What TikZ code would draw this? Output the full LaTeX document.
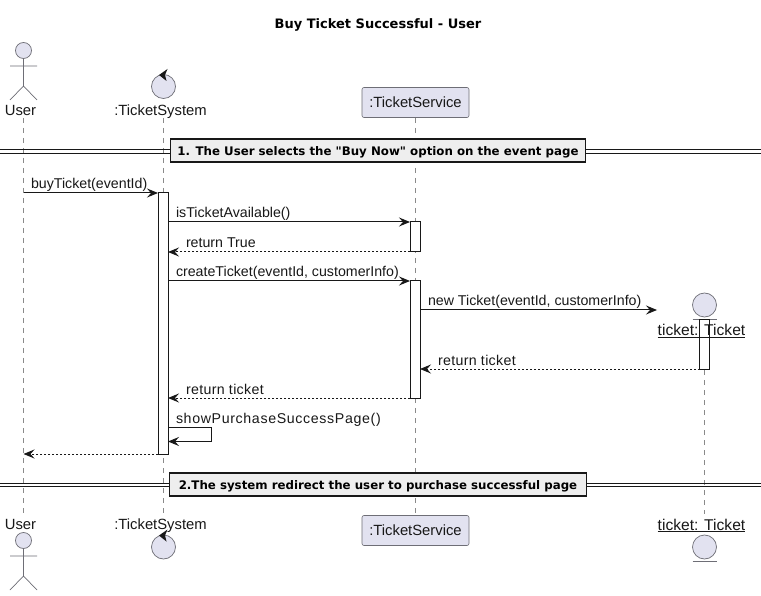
\documentclass[tikz,border=0pt]{standalone}
\usepackage{fontspec}
\setmainfont{Liberation Sans}
\newfontfamily\boldfam{DejaVu Sans}[BoldFont={DejaVu Sans Bold}]
\newfontfamily\widefam[LetterSpace=4.5]{Liberation Sans}
\newfontfamily\retfam[LetterSpace=2.3]{Liberation Sans}
\usetikzlibrary{arrows.meta,calc}
\definecolor{partfill}{HTML}{E2E2F0}
\definecolor{ink}{HTML}{181818}
\definecolor{partline}{HTML}{6E6E76}
\definecolor{lifecol}{HTML}{8A8A8A}
\definecolor{divfill}{HTML}{EEEEEE}
\tikzset{
  lbl/.style={inner sep=0pt,outer sep=0pt,anchor=base west,text=ink,font=\fontsize{14.2}{16}\selectfont},
  widelbl/.style={lbl,font=\widefam\fontsize{14.2}{16}\selectfont},
  retlbl/.style={lbl,font=\retfam\fontsize{14.2}{16}\selectfont},
  part/.style={inner sep=0pt,outer sep=0pt,anchor=base,text=ink,font=\fontsize{14.8}{17}\selectfont},
  entlbl/.style={part,font=\fontsize{15.6}{17}\selectfont},
  ttl/.style={inner sep=0pt,outer sep=0pt,anchor=base,text=black,font=\boldfam\bfseries\fontsize{13}{15}\selectfont},
  msg/.style={draw=ink,line width=1pt,-{Stealth[length=11pt,width=9pt,inset=4pt,fill=ink]}},
  ret/.style={msg,dash pattern=on 2pt off 2pt},
  lifeline/.style={draw=lifecol,line width=.8pt,dash pattern=on 5pt off 5pt},
  bar/.style={draw=ink,fill=white,line width=1pt,minimum width=10pt,inner sep=0pt,outer sep=0pt},
  svcbox/.style={draw=partline,fill=partfill,line width=.6pt,rounded corners=2pt,minimum width=107pt,minimum height=30pt,inner sep=0pt,text=ink,font=\fontsize{14.8}{17}\selectfont},
  shp/.style={draw=partline,line width=.7pt},
  shpfill/.style={shp,fill=partfill},
  divbox/.style={draw=ink,fill=divfill,line width=1.8pt,inner sep=0pt,minimum height=23pt,text=black,font=\boldfam\bfseries\fontsize{11.8}{15}\selectfont},
  divline/.style={draw=ink,line width=1.1pt},
  ctl/.style={fill=ink,draw=none}
}
\begin{document}
\begin{tikzpicture}[x=1pt,y=-1pt]
\useasboundingbox[fill=white] (0,0) rectangle (761,596);
% anchors of the lifelines
\coordinate (uT) at (23.5,118);  \coordinate (uB) at (23.5,514);
\coordinate (sT) at (163.5,118); \coordinate (sB) at (163.5,514);
\coordinate (vT) at (415,118);   \coordinate (vB) at (415,516);
\coordinate (tT) at (704.5,340); \coordinate (tB) at (704.5,514);
\coordinate (dL1) at (0,151.5);  \coordinate (dR1) at (761,151.5);
\coordinate (dL2) at (0,485);    \coordinate (dR2) at (761,485);
\draw[lifeline] (uT) -- (uB);
\draw[lifeline] (sT) -- (sB);
\draw[lifeline] (vT) -- (vB);
\draw[lifeline] (tT) -- (tB);

\node[ttl] (title) at (378,29) {Buy Ticket Successful - User};

% User top
\draw[shpfill] (23.5,50.5) circle (8);
\draw[shp] (23.5,58.5) -- (23.5,86) (10,66) -- (37,66) (10,100) -- (23.5,86) -- (37,100);
\node[part] (userTop) at (20.5,116) {User};
% TicketSystem top
\draw[shpfill] (163.5,86.5) circle (12);
\fill[ctl] (159,75) -- (167.5,69) -- (165,75) -- (166.5,81) -- cycle;
\node[part] (sysTop) at (160.5,116) {:TicketSystem};
% TicketService
\node[svcbox] (svcTop) at (415.5,102.5) {:TicketService};
\node[svcbox] (svcBot) at (415.5,530.5) {:TicketService};
% Created entity
\draw[shpfill] (704.5,305) circle (12);
\draw[shp] (692.5,319) -- (716.5,319);

% Dividers
\draw[divline] ($(dL1)+(0,-1.6)$) -- ($(dR1)+(0,-1.6)$);
\draw[divline] ($(dL1)+(0,1.6)$) -- ($(dR1)+(0,1.6)$);
\node[divbox,minimum width=415pt] (div1) at (378,150.5) {\raisebox{-5pt}[0pt][0pt]{1. The User selects the "Buy Now" option on the event page}};
\draw[divline] ($(dL2)+(0,-1.6)$) -- ($(dR2)+(0,-1.6)$);
\draw[divline] ($(dL2)+(0,1.6)$) -- ($(dR2)+(0,1.6)$);
\node[divbox,minimum width=417pt] (div2) at (378,484.5) {\raisebox{-5pt}[0pt][0pt]{2.The system redirect the user to purchase successful page}};

% Activation bars
\node[bar,minimum height=261pt] (a1) at (163,323.5) {};
\node[bar,minimum height=30pt] (a2) at (415,237) {};
\node[bar,minimum height=117pt] (a3) at (415,339.5) {};
\node[bar,minimum height=49pt] (a4) at (704.5,344.5) {};

% Label of the created entity lies over its bar
\node[entlbl] (tkt) at (701.5,336) {ticket: Ticket};
\draw[draw=ink,line width=1pt] (tkt.base west |- 0,337.5) -- (tkt.base east |- 0,337.5);

% Free ends
\coordinate (newEnd) at (657,310);
\coordinate (selfA) at (211,427.5);
\coordinate (selfB) at (211,441.5);
\coordinate (selfS) at (a1.east |- selfA);
\coordinate (selfE) at (a1.east |- selfB);

% Messages
\draw[msg] (uT |- a1.north west) -- (a1.north west);
\node[lbl] (m1) at (31,189) {buyTicket(eventId)};
\draw[msg] (a1.east |- a2.north west) -- (a2.north west);
\node[lbl] (m2) at (176,218) {isTicketAvailable()};
\draw[ret] (a2.south west) -- (a1.east |- a2.south west);
\node[lbl] (m3) at (186,248) {return True};
\draw[msg] (a1.east |- a3.north west) -- (a3.north west);
\node[lbl] (m4) at (176,277) {createTicket(eventId, customerInfo)};
\draw[msg] (a3.east |- newEnd) -- (newEnd);
\node[lbl] (m5) at (428,306) {new Ticket(eventId, customerInfo)};
\draw[ret] (a4.south west) -- (a3.east |- a4.south west);
\node[retlbl] (m6) at (438,365) {return ticket};
\draw[ret] (a3.south west) -- (a1.east |- a3.south west);
\node[retlbl] (m7) at (186,394) {return ticket};
\draw[msg] (selfS) -- (selfA) -- (selfB) -- (selfE);
\node[widelbl] (m8) at (176,423) {showPurchaseSuccessPage()};
\draw[ret] (a1.south west) -- (uT |- a1.south west);

% Bottom participants
\node[part] (userBot) at (20.5,529.5) {User};
\draw[shpfill] (23.5,540.5) circle (8);
\draw[shp] (23.5,548.5) -- (23.5,576) (10,556) -- (37,556) (10,590) -- (23.5,576) -- (37,590);
\node[part] (sysBot) at (160.5,529.5) {:TicketSystem};
\draw[shpfill] (163.5,547) circle (12);
\fill[ctl] (159,535.5) -- (167.5,529.5) -- (165,535.5) -- (166.5,541.5) -- cycle;
\node[entlbl] (tktBot) at (701.5,530) {ticket: Ticket};
\draw[draw=ink,line width=1pt] (tktBot.base west |- 0,531.5) -- (tktBot.base east |- 0,531.5);
\draw[shpfill] (704.5,547) circle (12);
\draw[shp] (692.5,561) -- (716.5,561);
\end{tikzpicture}
\end{document}
